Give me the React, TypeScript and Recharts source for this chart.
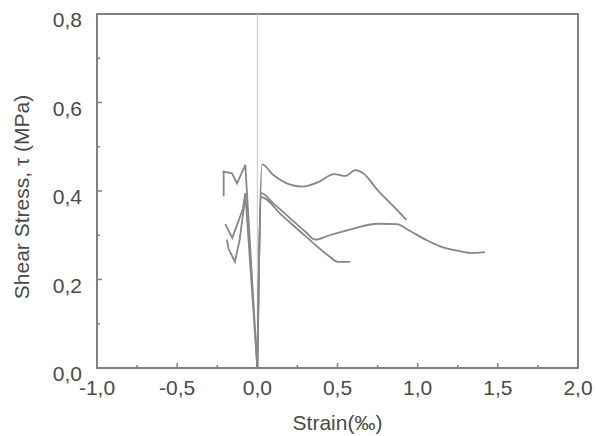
import { LineChart, Line, XAxis, YAxis, ReferenceLine, ReferenceArea } from "recharts";

const xTicks = [-1, -0.75, -0.5, -0.25, 0, 0.25, 0.5, 0.75, 1, 1.25, 1.5, 1.75, 2];
const yTicks = [0, 0.1, 0.2, 0.3, 0.4, 0.5, 0.6, 0.7, 0.8];

// [strain ‰, shear stress MPa]
const upperRight: [number, number][] = [
  [0, 0], [0.03, 0.46], [0.1, 0.436], [0.2, 0.415], [0.28, 0.41], [0.38, 0.42],
  [0.48, 0.438], [0.55, 0.434], [0.61, 0.447], [0.66, 0.44], [0.75, 0.402], [0.85, 0.365], [0.93, 0.335],
];
const longRight: [number, number][] = [
  [0, 0], [0.025, 0.395], [0.1, 0.372], [0.2, 0.34], [0.3, 0.308], [0.36, 0.29], [0.45, 0.3],
  [0.6, 0.315], [0.75, 0.326], [0.87, 0.325], [0.95, 0.31], [1.05, 0.29], [1.14, 0.275],
  [1.25, 0.265], [1.33, 0.26], [1.42, 0.262],
];
const shortRight: [number, number][] = [
  [0, 0], [0.025, 0.386], [0.15, 0.346], [0.3, 0.298], [0.45, 0.252], [0.5, 0.24], [0.58, 0.24],
];
const upperLeft: [number, number][] = [
  [-0.21, 0.388], [-0.21, 0.444], [-0.158, 0.44], [-0.127, 0.417], [-0.075, 0.459], [0, 0],
];
const lowerLeftA: [number, number][] = [
  [-0.2, 0.325], [-0.156, 0.294], [-0.09, 0.36], [-0.075, 0.395], [0, 0],
];
const lowerLeftB: [number, number][] = [
  [-0.19, 0.29], [-0.18, 0.27], [-0.14, 0.24], [-0.11, 0.29], [-0.085, 0.36], [-0.075, 0.39],
];

const smoothCurves = [upperRight, longRight, shortRight];
const zigzagCurves = [upperLeft, lowerLeftA, lowerLeftB];

const toPoints = (c: [number, number][]) => c.map(([x, y]) => ({ x, y }));
const fmt = (v: number) => v.toFixed(1).replace(".", ",");
const isMajor = (v: number, step: number) => Math.abs(v / step - Math.round(v / step)) < 1e-6;

const FONT = "'Liberation Sans', Arial, sans-serif";
const TEXT = "#4a4a4a";
const AXIS = "#808080";
const CURVE = "#878787";

function XTick(props: any) {
  const { x, y, payload } = props;
  const major = isMajor(payload.value, 0.5);
  return (
    <g>
      <line x1={x} x2={x} y1={y} y2={y - (major ? 5 : 3)} stroke={AXIS} strokeWidth={1.5} />
      {major && (
        <text x={x} y={y + 27} textAnchor="middle" fontSize={21} fontFamily={FONT} fill={TEXT}>
          {fmt(payload.value)}
        </text>
      )}
    </g>
  );
}

function YTick(props: any) {
  const { x, y, payload } = props;
  const major = isMajor(payload.value, 0.2);
  return (
    <g>
      <line x1={x} x2={x + (major ? 5 : 3)} y1={y} y2={y} stroke={AXIS} strokeWidth={1.5} />
      {major && (
        <text x={x - 15} y={y + 13} textAnchor="end" fontSize={21} fontFamily={FONT} fill={TEXT}>
          {fmt(payload.value)}
        </text>
      )}
    </g>
  );
}

export default function App() {
  return (
    <div style={{ position: "absolute", left: 0, top: 0, background: "#fff" }}>
      <LineChart width={596} height={436} margin={{ top: 14, right: 18, left: 0, bottom: 0 }}>
        <XAxis
          type="number"
          dataKey="x"
          domain={[-1, 2]}
          ticks={xTicks}
          interval={0}
          height={68}
          tickSize={0}
          tickMargin={0}
          tickLine={false}
          axisLine={{ stroke: AXIS, strokeWidth: 2 }}
          tick={<XTick />}
          label={{ value: "Strain(‰)", position: "insideBottom", offset: 6, fontSize: 21, fontFamily: FONT, fill: TEXT }}
        />
        <YAxis
          type="number"
          domain={[0, 0.8]}
          ticks={yTicks}
          interval={0}
          width={97}
          tickSize={0}
          tickMargin={0}
          tickLine={false}
          axisLine={{ stroke: AXIS, strokeWidth: 2 }}
          tick={<YTick />}
          label={{
            content: () => (
              <text
                transform="translate(22,197) rotate(-90)"
                textAnchor="middle"
                dy="0.35em"
                fontSize={21}
                fontFamily={FONT}
                fill={TEXT}
              >
                Shear Stress, τ (MPa)
              </text>
            ),
          }}
        />
        <ReferenceArea x1={-1} x2={2} y1={0} y2={0.8} fill="none" stroke={AXIS} strokeWidth={2} />
        <ReferenceLine x={0} stroke="#c8c8c8" strokeWidth={1} />
        {smoothCurves.map((c, i) => (
          <Line
            key={`s${i}`}
            data={toPoints(c)}
            dataKey="y"
            type="monotone"
            stroke={CURVE}
            strokeWidth={1.8}
            dot={false}
            isAnimationActive={false}
          />
        ))}
        {zigzagCurves.map((c, i) => (
          <Line
            key={`z${i}`}
            data={toPoints(c)}
            dataKey="y"
            type="linear"
            stroke={CURVE}
            strokeWidth={1.8}
            dot={false}
            isAnimationActive={false}
          />
        ))}
      </LineChart>
    </div>
  );
}
